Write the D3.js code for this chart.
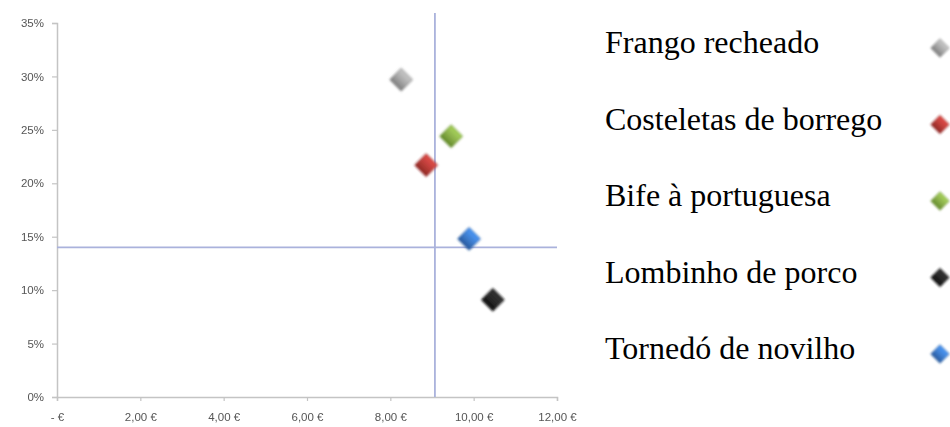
<!DOCTYPE html>
<html>
<head>
<meta charset="utf-8">
<script src="https://cdn.jsdelivr.net/npm/d3@7"></script>
<style>
  html, body { margin: 0; padding: 0; background: #fff; }
  svg { display: block; }
</style>
</head>
<body>
<svg id="chart" width="950" height="427"></svg>
<script>
// Dishes: price (€) vs. margin (%)
const dishes = ["Frango recheado", "Costeletas de borrego", "Bife à portuguesa", "Lombinho de porco", "Tornedó de novilho"];
const prices = [8.26, 8.86, 9.46, 10.46, 9.89];
const margins = [0.297, 0.217, 0.244, 0.091, 0.148];
const colors = ["#a9a9a9", "#be3f3b", "#8db24c", "#2a2a2a", "#3f7fd0"];
const darkColors = ["#7d7d7d", "#8e2522", "#628a2a", "#0d0d0d", "#25589c"];

const xTicks = [0, 2, 4, 6, 8, 10, 12];
const xTickLabels = ["- €", "2,00 €", "4,00 €", "6,00 €", "8,00 €", "10,00 €", "12,00 €"];
const yTicks = [0, 0.05, 0.10, 0.15, 0.20, 0.25, 0.30, 0.35];
const yTickLabels = ["0%", "5%", "10%", "15%", "20%", "25%", "30%", "35%"];

// average reference lines
const avgPrice = 9.07;
const avgMargin = 0.14;

const svg = d3.select("#chart");
const defs = svg.append("defs");

const blur = defs.append("filter").attr("id", "soft")
  .attr("x", "-20%").attr("y", "-20%").attr("width", "140%").attr("height", "140%");
blur.append("feGaussianBlur").attr("stdDeviation", 0.75);

const markerBlur = defs.append("filter").attr("id", "markerSoft")
  .attr("x", "-50%").attr("y", "-50%").attr("width", "200%").attr("height", "200%");
markerBlur.append("feGaussianBlur").attr("stdDeviation", 0.8);

colors.forEach((c, i) => {
  const g = defs.append("linearGradient").attr("id", "grad" + i)
    .attr("x1", "0").attr("y1", "0").attr("x2", "0").attr("y2", "1");
  g.append("stop").attr("offset", "0%").attr("stop-color", d3.color(c).brighter(0.5));
  g.append("stop").attr("offset", "50%").attr("stop-color", c);
  g.append("stop").attr("offset", "100%").attr("stop-color", darkColors[i]);
});

const x = d3.scaleLinear().domain([0, 12]).range([57, 557]);
const y = d3.scaleLinear().domain([0, 0.35]).range([397, 23]);

const plot = svg.append("g").attr("filter", "url(#soft)");

// axes
const xAxis = d3.axisBottom(x).tickValues(xTicks)
  .tickFormat((d, i) => xTickLabels[i]).tickSize(4).tickPadding(12);
const yAxis = d3.axisLeft(y).tickValues(yTicks)
  .tickFormat((d, i) => yTickLabels[i]).tickSize(5).tickPadding(8);

const gx = plot.append("g").attr("transform", `translate(0,${y(0)})`).call(xAxis);
const gy = plot.append("g").attr("transform", `translate(${x(0)},0)`).call(yAxis);

[gx, gy].forEach(g => {
  g.select(".domain").attr("stroke", "#c4c4c4").attr("stroke-width", 1.5);
  g.selectAll(".tick line").attr("stroke", "#c4c4c4").attr("stroke-width", 1.2);
  g.selectAll(".tick text")
    .attr("fill", "#555")
    .style("font-family", "'Liberation Sans', Arial, sans-serif")
    .style("font-size", "11.5px");
});

// reference lines
plot.append("line")
  .attr("x1", x(avgPrice)).attr("x2", x(avgPrice))
  .attr("y1", y(0.35) - 10).attr("y2", y(0))
  .attr("stroke", "#aab2dc").attr("stroke-width", 1.8);
plot.append("line")
  .attr("x1", x(0)).attr("x2", x(12))
  .attr("y1", y(avgMargin)).attr("y2", y(avgMargin))
  .attr("stroke", "#aab2dc").attr("stroke-width", 1.8);

// diamond markers
const bigDiamond = d3.symbol().type(d3.symbolSquare).size(260);
const smallDiamond = d3.symbol().type(d3.symbolSquare).size(170);

plot.append("g").selectAll("path")
  .data(dishes)
  .join("path")
  .attr("d", bigDiamond)
  .attr("transform", (d, i) => `translate(${x(prices[i])},${y(margins[i])}) rotate(45)`)
  .attr("fill", (d, i) => `url(#grad${i})`)
  .attr("stroke", (d, i) => darkColors[i])
  .attr("stroke-width", 0.6)
  .attr("filter", "url(#markerSoft)");

// legend
const legend = svg.append("g");
const legendY = d3.scalePoint().domain(dishes).range([53, 359]);

legend.selectAll("text")
  .data(dishes)
  .join("text")
  .attr("x", 605)
  .attr("y", d => legendY(d))
  .attr("fill", "#000")
  .style("font-family", "'Liberation Serif', 'Times New Roman', serif")
  .style("font-size", "32px")
  .text(d => d);

legend.selectAll("path")
  .data(dishes)
  .join("path")
  .attr("d", smallDiamond)
  .attr("transform", (d, i) => `translate(940,${legendY(d) - 5}) rotate(45)`)
  .attr("fill", (d, i) => `url(#grad${i})`)
  .attr("stroke", (d, i) => darkColors[i])
  .attr("stroke-width", 0.5)
  .attr("filter", "url(#markerSoft)");
</script>
</body>
</html>
